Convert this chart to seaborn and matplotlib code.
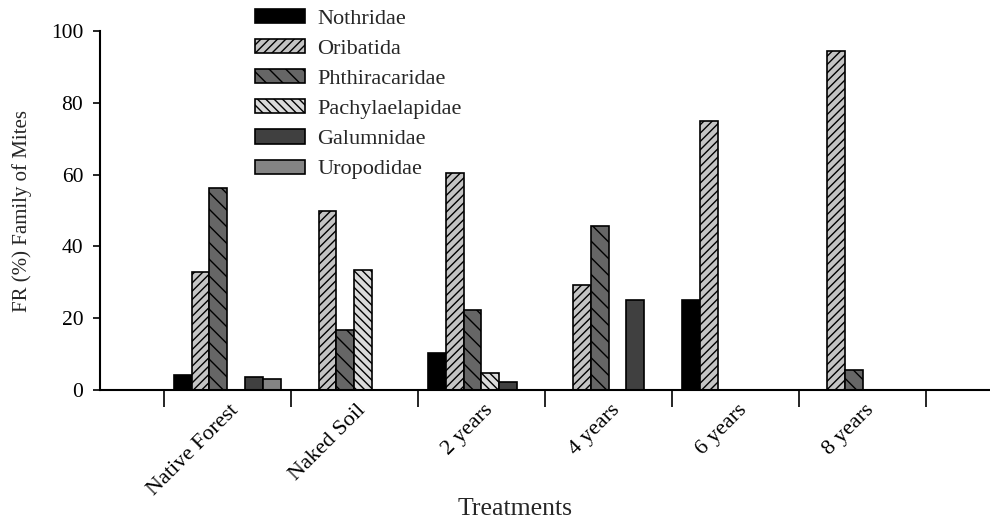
import numpy as np
import pandas as pd
import matplotlib
matplotlib.use("Agg")
import matplotlib.pyplot as plt
import matplotlib.patches as mpatches
from matplotlib.transforms import ScaledTranslation
import seaborn as sns

# ---- data ----
treatments = ["Native Forest", "Naked Soil", "2 years", "4 years", "6 years", "8 years"]
families = ["Nothridae", "Oribatida", "Phthiracaridae", "Pachylaelapidae", "Galumnidae", "Uropodidae"]
nothridae       = [4.2, 0.0, 10.4, 0.0, 25.0, 0.0]
oribatida       = [32.9, 50.0, 60.4, 29.2, 75.0, 94.4]
phthiracaridae  = [56.3, 16.7, 22.2, 45.8, 0.0, 5.6]
pachylaelapidae = [0.0, 33.3, 4.8, 0.0, 0.0, 0.0]
galumnidae      = [3.6, 0.0, 2.1, 25.0, 0.0, 0.0]
uropodidae      = [3.1, 0.0, 0.0, 0.0, 0.0, 0.0]
y_ticks = [0, 20, 40, 60, 80, 100]

series = [nothridae, oribatida, phthiracaridae, pachylaelapidae, galumnidae, uropodidae]
rows = []
for fam, vals in zip(families, series):
    for t, v in zip(treatments, vals):
        rows.append({"Treatment": t, "Family": fam, "FR": v})
df = pd.DataFrame(rows)

# ---- styles ----
fills = {
    "Nothridae": "#000000",
    "Oribatida": "#c4c4c4",
    "Phthiracaridae": "#666666",
    "Pachylaelapidae": "#dadada",
    "Galumnidae": "#404040",
    "Uropodidae": "#848484",
}
hatches = {
    "Nothridae": "",
    "Oribatida": "////",
    "Phthiracaridae": "\\\\",
    "Pachylaelapidae": "\\\\\\\\",
    "Galumnidae": "",
    "Uropodidae": "",
}

sns.set_theme(style="ticks")
plt.rcParams["font.family"] = ["Liberation Serif", "DejaVu Serif"]
plt.rcParams["hatch.linewidth"] = 1.0
plt.rcParams["hatch.color"] = "black"

fig = plt.figure(figsize=(9.9, 5.22), dpi=100)
ax = fig.add_axes([100 / 990, 1 - 390 / 522, 890 / 990, 359 / 522])

sns.barplot(data=df, x="Treatment", y="FR", hue="Family", order=treatments,
            hue_order=families, palette=fills, saturation=1, width=0.84,
            edgecolor="black", linewidth=1.2, legend=False, ax=ax)

# apply hatches per family container
for fam, cont in zip(families, ax.containers):
    for p in cont:
        p.set_hatch(hatches[fam])
        p.set_edgecolor("black")

ax.set_xlim(-1.0, 6.0)
ax.set_ylim(0, 100)
ax.set_yticks(y_ticks)
ax.set_yticklabels([str(v) for v in y_ticks])
sns.despine(ax=ax)
for s in ["left", "bottom"]:
    ax.spines[s].set_linewidth(1.5)
    ax.spines[s].set_color("black")

ax.tick_params(axis="y", length=5, width=1.2, pad=7, labelsize=15.5, colors="black", direction="out")
ax.set_xticks(range(len(treatments)))
ax.set_xticklabels(treatments)
ax.set_xticks(np.arange(-0.5, len(treatments)), minor=True)
ax.tick_params(axis="x", which="major", length=0, pad=8, labelsize=16, colors="black")
ax.tick_params(axis="x", which="minor", length=12, width=1.2, direction="out", color="black")
off = ScaledTranslation(0.02, 0, fig.dpi_scale_trans)
for lab in ax.get_xticklabels():
    lab.set_rotation(45)
    lab.set_ha("right")
    lab.set_va("top")
    lab.set_rotation_mode("anchor")
    lab.set_transform(lab.get_transform() + off)

ax.set_xlabel("Treatments", fontsize=18.5, va="top")
ax.xaxis.set_label_coords((515 - 100) / 890, -0.30)
ax.set_ylabel("FR (%) Family of Mites", fontsize=15)
ax.yaxis.set_label_coords(-0.0764, 0.5)

handles = [mpatches.Patch(facecolor=fills[f], edgecolor="black", hatch=hatches[f],
                          linewidth=1.2, label=f) for f in families]
fig.legend(handles=handles, loc="upper left", bbox_to_anchor=(255 / 990, 1 - 9 / 522),
           bbox_transform=fig.transFigure, frameon=False, fontsize=16,
           handlelength=2.25, handleheight=0.6, handletextpad=0.55,
           labelspacing=0.46, borderpad=0, borderaxespad=0)

fig.savefig("out.png", dpi=100)
